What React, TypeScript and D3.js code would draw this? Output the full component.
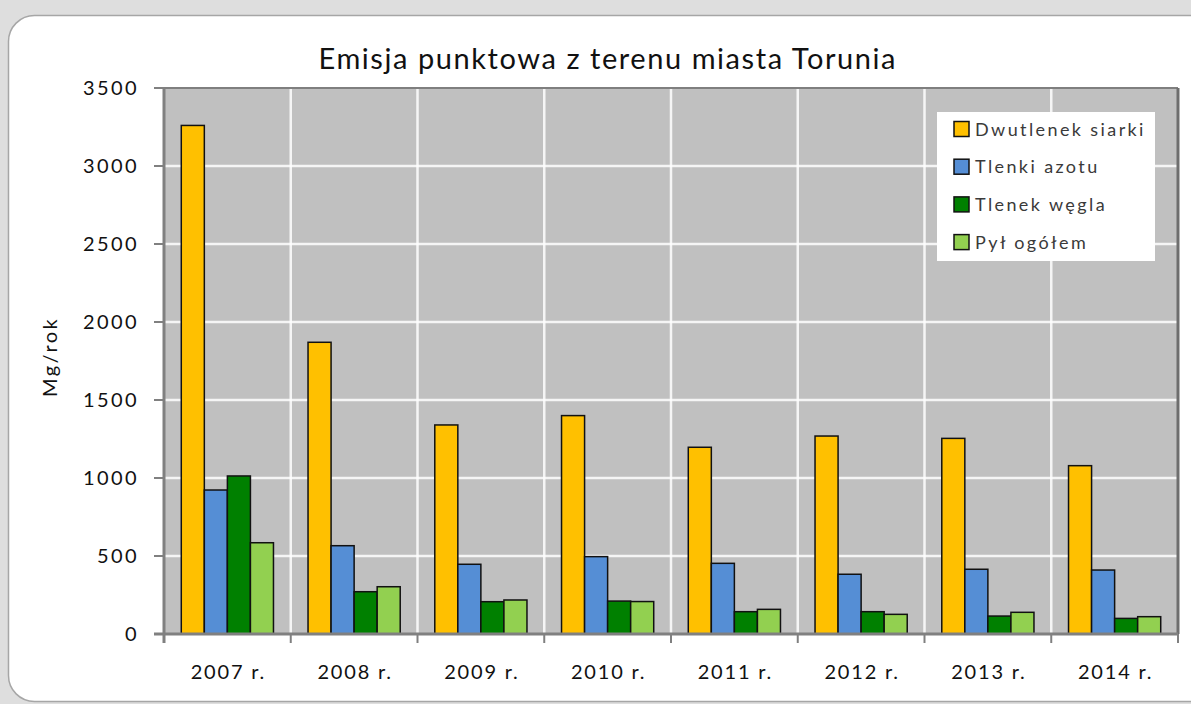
import React from 'react';
import * as d3 from 'd3';

const years = ['2007 r.', '2008 r.', '2009 r.', '2010 r.', '2011 r.', '2012 r.', '2013 r.', '2014 r.'];
const seriesNames = ['Dwutlenek siarki', 'Tlenki azotu', 'Tlenek węgla', 'Pył ogółem'];
const seriesColors = ['#FFC000', '#558ED5', '#008000', '#92D050'];

const sulfurDioxide = [3260, 1870, 1340, 1400, 1197, 1269, 1254, 1079];
const nitrogenOxides = [923, 566, 447, 496, 453, 383, 415, 410];
const carbonMonoxide = [1013, 271, 207, 211, 143, 143, 115, 100];
const dust = [585, 303, 218, 208, 158, 126, 139, 111];

const seriesValues = [sulfurDioxide, nitrogenOxides, carbonMonoxide, dust];
const yTicks = [0, 500, 1000, 1500, 2000, 2500, 3000, 3500];

const W = 1191;
const H = 704;
const plot = { left: 164, right: 1178, top: 88, bottom: 634 };
const font = "Lato, 'Open Sans', sans-serif";

const App = () => {
  const x0 = d3.scaleBand<string>().domain(years).range([plot.left, plot.right]);
  const x1 = d3.scaleBand<string>()
    .domain(seriesNames)
    .range([0, x0.bandwidth()])
    .paddingInner(0)
    .paddingOuter(0.75);
  const y = d3.scaleLinear().domain([0, 3500]).range([plot.bottom, plot.top]);

  const boundaries = years.map(c => x0(c) as number).concat([plot.right]);

  return (
    <svg
      width={W}
      height={H}
      style={{ position: 'absolute', left: 0, top: 0, fontFamily: font }}
    >
      <rect x={0} y={0} width={W} height={H} fill="#dedede" />
      <rect x={8.5} y={15.5} width={1215} height={686} rx={26} fill="#ffffff" stroke="#a6a6a6" strokeWidth={1.5} />

      {/* Title */}
      <text x={607} y={69} textAnchor="middle" fill="#111" style={{ fontSize: '29px' }} textLength={577} lengthAdjust="spacing">
        Emisja punktowa z terenu miasta Torunia
      </text>

      {/* Plot area */}
      <rect x={plot.left} y={plot.top} width={plot.right - plot.left} height={plot.bottom - plot.top} fill="#c0c0c0" />

      {/* Grid lines */}
      {yTicks.filter(t => t > 0 && t < 3500).map(t => (
        <line key={`gy-${t}`} x1={plot.left} x2={plot.right} y1={y(t)} y2={y(t)} stroke="#ffffff" strokeWidth={2.5} opacity={0.85} />
      ))}
      {boundaries.slice(1, -1).map((bx, i) => (
        <line key={`gx-${i}`} x1={bx} x2={bx} y1={plot.top} y2={plot.bottom} stroke="#ffffff" strokeWidth={2.5} opacity={0.85} />
      ))}

      {/* Bars */}
      {years.map((yr, i) => (
        <g key={yr} transform={`translate(${x0(yr)},0)`}>
          {seriesNames.map((s, j) => (
            <rect
              key={s}
              x={x1(s)}
              y={y(seriesValues[j][i])}
              width={x1.bandwidth()}
              height={plot.bottom - y(seriesValues[j][i])}
              fill={seriesColors[j]}
              stroke="#111"
              strokeWidth={1.5}
            />
          ))}
        </g>
      ))}

      {/* Plot border */}
      <line x1={plot.left} x2={plot.right} y1={plot.top} y2={plot.top} stroke="#7f7f7f" strokeWidth={2} />
      <line x1={plot.right} x2={plot.right} y1={plot.top} y2={plot.bottom} stroke="#6e6e6e" strokeWidth={3} />

      {/* Axes */}
      <line x1={plot.left} x2={plot.left} y1={plot.top} y2={plot.bottom + 9} stroke="#808080" strokeWidth={3} />
      <line x1={plot.left - 10} x2={plot.right} y1={plot.bottom} y2={plot.bottom} stroke="#808080" strokeWidth={3} />
      {yTicks.map(t => (
        <g key={`yt-${t}`}>
          <line x1={plot.left - 10} x2={plot.left} y1={y(t)} y2={y(t)} stroke="#808080" strokeWidth={2} />
          <text x={139} y={y(t) + 7} textAnchor="end" fill="#111" style={{ fontSize: '20px', letterSpacing: '2.4px' }}>
            {t}
          </text>
        </g>
      ))}
      {boundaries.map((bx, i) => (
        <line key={`xt-${i}`} x1={bx} x2={bx} y1={plot.bottom} y2={plot.bottom + 9} stroke="#808080" strokeWidth={2} />
      ))}
      {years.map(yr => (
        <text
          key={`xl-${yr}`}
          x={(x0(yr) as number) + x0.bandwidth() / 2 + 1}
          y={679}
          textAnchor="middle"
          fill="#111"
          style={{ fontSize: '20px', letterSpacing: '1.8px' }}
        >
          {yr}
        </text>
      ))}

      {/* Y axis title */}
      <text
        transform={`translate(57, ${(plot.top + plot.bottom) / 2 - 4}) rotate(-90)`}
        textAnchor="middle"
        fill="#111"
        style={{ fontSize: '20px', letterSpacing: '2.4px' }}
      >
        Mg/rok
      </text>

      {/* Legend */}
      <g>
        <rect x={937} y={112} width={218} height={149} fill="#ffffff" />
        {seriesNames.map((s, j) => (
          <g key={`lg-${s}`} transform={`translate(954, ${129 + j * 37.7})`}>
            <rect x={0} y={-7.5} width={15} height={15} fill={seriesColors[j]} stroke="#111" strokeWidth={1.5} />
            <text x={21} y={6.5} fill="#3a3a3a" style={{ fontSize: '18px', letterSpacing: '2.4px' }}>
              {s}
            </text>
          </g>
        ))}
      </g>
    </svg>
  );
};

export default App;
